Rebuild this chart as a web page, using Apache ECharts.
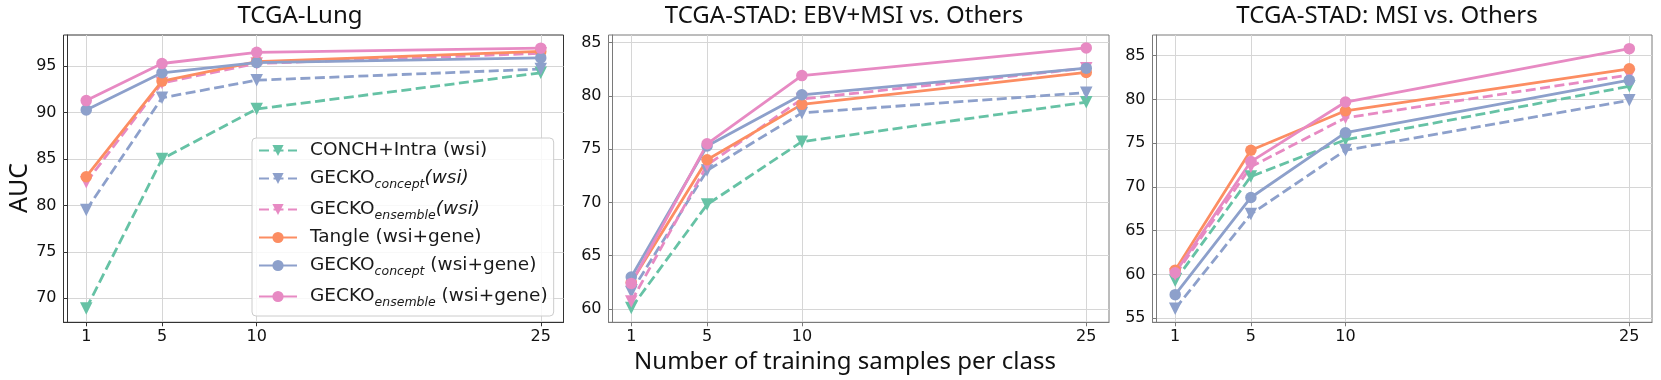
<!DOCTYPE html>
<html><head><meta charset="utf-8">
<script src="https://cdn.jsdelivr.net/npm/echarts@6/dist/echarts.min.js"></script>
<style>html,body{margin:0;padding:0;background:#fff}#c{width:1661px;height:380px}</style>
</head><body><div id="c"></div><script>
// ---------------- data ----------------
const xValues = [1, 5, 10, 25];
const xTickValues = [1, 5, 10, 25];
const seriesNames = [
  'CONCH+Intra (wsi)',
  'GECKO concept (wsi)',
  'GECKO ensemble (wsi)',
  'Tangle (wsi+gene)',
  'GECKO concept (wsi+gene)',
  'GECKO ensemble (wsi+gene)'
];
const panelTitles = ['TCGA-Lung', 'TCGA-STAD: EBV+MSI vs. Others', 'TCGA-STAD: MSI vs. Others'];
const yAxisTitle = 'AUC';
const xAxisTitle = 'Number of training samples per class';

// TCGA-Lung
const lungConchWsi       = [68.9, 85.0, 90.4, 94.3];
const lungGeckoCWsi      = [79.5, 91.6, 93.5, 94.7];
const lungGeckoEWsi      = [82.5, 93.2, 95.3, 96.4];
const lungTangleGene     = [83.1, 93.4, 95.5, 96.6];
const lungGeckoCGene     = [90.3, 94.3, 95.4, 95.9];
const lungGeckoEGene     = [91.3, 95.3, 96.5, 96.95];
// TCGA-STAD EBV+MSI vs Others
const ebvConchWsi        = [60.1, 69.8, 75.7, 79.4];
const ebvGeckoCWsi       = [61.6, 73.0, 78.4, 80.3];
const ebvGeckoEWsi       = [60.7, 73.5, 79.7, 82.6];
const ebvTangleGene      = [62.5, 74.0, 79.2, 82.2];
const ebvGeckoCGene      = [63.0, 75.3, 80.1, 82.6];
const ebvGeckoEGene      = [62.4, 75.5, 81.9, 84.5];
// TCGA-STAD MSI vs Others
const msiConchWsi        = [59.3, 71.2, 75.4, 81.5];
const msiGeckoCWsi       = [56.1, 66.9, 74.2, 79.9];
const msiGeckoEWsi       = [60.0, 72.3, 77.9, 82.8];
const msiTangleGene      = [60.5, 74.2, 78.7, 83.5];
const msiGeckoCGene      = [57.7, 68.8, 76.2, 82.2];
const msiGeckoEGene      = [60.2, 72.9, 79.7, 85.8];

const yTicksLung = [70, 75, 80, 85, 90, 95];
const yTicksEbv  = [60, 65, 70, 75, 80, 85];
const yTicksMsi  = [55, 60, 65, 70, 75, 80, 85];

// ---------------- layout / style ----------------
const panelData = [
  [lungConchWsi, lungGeckoCWsi, lungGeckoEWsi, lungTangleGene, lungGeckoCGene, lungGeckoEGene],
  [ebvConchWsi, ebvGeckoCWsi, ebvGeckoEWsi, ebvTangleGene, ebvGeckoCGene, ebvGeckoEGene],
  [msiConchWsi, msiGeckoCWsi, msiGeckoEWsi, msiTangleGene, msiGeckoCGene, msiGeckoEGene]
];
const panelYTicks = [yTicksLung, yTicksEbv, yTicksMsi];
const panelYRange = [[67.41, 98.37], [58.75, 85.71], [54.54, 87.36]];
const gridBoxes = [
  {left: 63.5, width: 500},
  {left: 608.5, width: 500.5},
  {left: 1152.5, width: 499.5}
];
const frameColors = ['#333333', '#7a7a7a', '#7a7a7a'];
const colors = ['#66c2a5', '#8da0cb', '#e78ac3', '#fc8d62', '#8da0cb', '#e78ac3'];
const dashed = [true, true, true, false, false, false];
const TICK_FONT = 'DejaVu Sans';
const TITLE_FONT = 'Noto Sans';

const grids = [], xAxes = [], yAxes = [], series = [];
gridBoxes.forEach((g, p) => {
  grids.push({left: g.left, width: g.width, top: 35, height: 287.3, show: true,
    borderColor: frameColors[p], borderWidth: 1, backgroundColor: 'transparent'});
  xAxes.push({
    type: 'value', gridIndex: p, min: -0.2, max: 26.2,
    axisLine: {show: true, lineStyle: {color: frameColors[p], width: 1}},
    axisTick: {show: true, length: 4, inside: false, customValues: xTickValues,
      lineStyle: {color: frameColors[p]}},
    axisLabel: {show: true, customValues: xTickValues, margin: 7, color: '#111',
      fontFamily: TICK_FONT, fontSize: 16},
    splitLine: {show: true, lineStyle: {color: '#d6d6d6', width: 1}}
  });
  yAxes.push({
    type: 'value', gridIndex: p, min: panelYRange[p][0], max: panelYRange[p][1],
    axisLine: {show: true, lineStyle: {color: frameColors[p], width: 1}},
    axisTick: {show: true, length: 4, inside: false, customValues: panelYTicks[p],
      lineStyle: {color: frameColors[p]}},
    axisLabel: {show: true, customValues: panelYTicks[p], margin: 7, color: '#111',
      fontFamily: TICK_FONT, fontSize: 16},
    splitLine: {show: true, lineStyle: {color: '#d6d6d6', width: 1}}
  });
  panelData[p].forEach((vals, s) => {
    series.push({
      type: 'line', name: seriesNames[s], xAxisIndex: p, yAxisIndex: p,
      data: xValues.map((x, i) => [x, vals[i]]),
      symbol: dashed[s] ? 'triangle' : 'circle',
      symbolRotate: dashed[s] ? 180 : 0,
      symbolSize: dashed[s] ? 12.5 : 11.5,
      showSymbol: true,
      lineStyle: {color: colors[s], width: 2.8, type: dashed[s] ? [10, 4.5] : 'solid'},
      itemStyle: {color: colors[s], borderWidth: 0},
      emphasis: {disabled: true},
      animation: false
    });
  });
});

const legendLabels = {
  'CONCH+Intra (wsi)': '{p|}{b|CONCH+Intra (wsi)}',
  'GECKO concept (wsi)': '{p|}{b|GECKO}{s|concept}{i|(wsi)}',
  'GECKO ensemble (wsi)': '{p|}{b|GECKO}{s|ensemble}{i|(wsi)}',
  'Tangle (wsi+gene)': '{p|}{b|Tangle (wsi+gene)}',
  'GECKO concept (wsi+gene)': '{p|}{b|GECKO}{s|concept}{b| (wsi+gene)}',
  'GECKO ensemble (wsi+gene)': '{p|}{b|GECKO}{s|ensemble}{b| (wsi+gene)}'
};

const option = {
  backgroundColor: '#ffffff',
  animation: false,
  grid: grids,
  xAxis: xAxes,
  yAxis: yAxes,
  series: series,
  legend: {
    data: seriesNames,
    orient: 'vertical',
    left: 252, top: 138,
    itemWidth: 38, itemHeight: 14, itemGap: 6,
    padding: [3, 6, 7, 6],
    backgroundColor: 'rgba(255,255,255,0.82)',
    borderColor: '#cccccc', borderWidth: 1, borderRadius: 4,
    selectedMode: false,
    formatter: n => legendLabels[n],
    textStyle: {
      fontFamily: TICK_FONT, fontSize: 18.5, color: '#1a1a1a',
      rich: {
        p: {width: 8, lineHeight: 24},
        b: {fontFamily: TICK_FONT, fontSize: 18.5, lineHeight: 24, color: '#1a1a1a'},
        i: {fontFamily: TICK_FONT, fontSize: 18.5, fontStyle: 'italic', lineHeight: 24, color: '#1a1a1a'},
        s: {fontFamily: TICK_FONT, fontSize: 12.5, fontStyle: 'italic', lineHeight: 12,
            padding: [12, 0, 0, 0], color: '#1a1a1a'}
      }
    }
  },
  graphic: [
    {type: 'text', x: 300, y: 16.5, style: {text: panelTitles[0], font: '24px "' + TITLE_FONT + '"',
      fill: '#111', align: 'center', verticalAlign: 'middle'}},
    {type: 'text', x: 844, y: 16.5, style: {text: panelTitles[1], font: '24px "' + TITLE_FONT + '"',
      fill: '#111', align: 'center', verticalAlign: 'middle'}},
    {type: 'text', x: 1387, y: 16.5, style: {text: panelTitles[2], font: '24px "' + TITLE_FONT + '"',
      fill: '#111', align: 'center', verticalAlign: 'middle'}},
    {type: 'text', x: 845, y: 362, style: {text: xAxisTitle, font: '24px "' + TITLE_FONT + '"',
      fill: '#111', align: 'center', verticalAlign: 'middle'}},
    {type: 'text', x: 19.5, y: 188, rotation: Math.PI / 2, style: {text: yAxisTitle,
      font: '25px "' + TITLE_FONT + '"', fill: '#111', align: 'center', verticalAlign: 'middle'}}
  ]
};

const chart = echarts.init(document.getElementById('c'), null, {renderer: 'canvas'});
chart.setOption(option);
</script></body></html>
